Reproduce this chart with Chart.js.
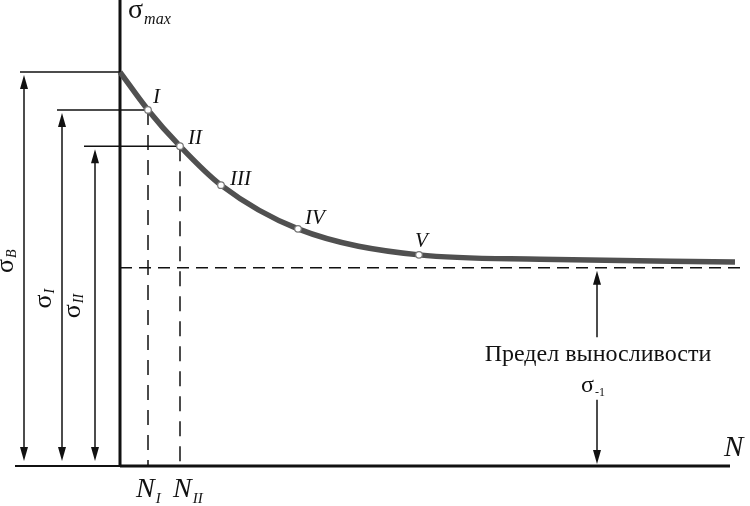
<!DOCTYPE html>
<html>
<head>
<meta charset="utf-8">
<script src="https://cdn.jsdelivr.net/npm/chart.js@4"></script>
<style>
  html, body { margin: 0; padding: 0; background: #fff; }
  #wrap { width: 750px; height: 506px; position: relative; }
</style>
</head>
<body>
<div id="wrap"><canvas id="fatigue"></canvas></div>
<script>
// ── Data (N in arbitrary cycle units, σ in % of σB) ──
const curveN     = [0, 2.8, 6.0, 10.1, 17.8, 29.9, 42.0, 61.5];
const curveSigma = [100, 90.4, 81.2, 71.3, 60.2, 53.6, 52.5, 51.8];
const pointIndex = [1, 2, 3, 4, 5];
const pointNames = ['I', 'II', 'III', 'IV', 'V'];

const sigmaB = 100, sigmaI = 90.4, sigmaII = 81.2;
const sigmaLimit = 50.3;
const nI = 2.8, nII = 6.0;

// axis extents
const xMin = -12, xMax = 63;
const yMin = -10.15, yMax = 118.3;
const axisNLeft = -10.5, axisNRight = 61, limitNEnd = 62;

// left reference lines and their dimension arrows
const refSigma = [sigmaB, sigmaI, sigmaII];
const refLineStart = [-10, -6.3, -3.6];
const refLineEnd = [0, nI, nII];
const refArrowN = [-9.6, -5.8, -2.5];
const refNames = [['σ', 'B'], ['σ', 'I'], ['σ', 'II']];
const refLabelN = [-11.4, -7.6, -4.7];
const refLabelSigma = [49.0, 40.0, 37.5];

// endurance-limit arrow
const limitArrowN = 47.7;
const limitUpFrom = 32.7, limitDownFrom = 16.8;

const seg = (x1, y1, x2, y2) => [{ x: x1, y: y1 }, { x: x2, y: y2 }];
const lineDs = (data, width, dash, order) => ({
    data, showLine: true, borderColor: '#111', borderWidth: width,
    borderDash: dash || [], pointRadius: 0, fill: false, order: order ?? 3, clip: false
});

const datasets = [
    // markers on the curve
    {
        data: pointIndex.map(i => ({ x: curveN[i], y: curveSigma[i] })),
        showLine: false, pointRadius: 3.3, pointBackgroundColor: '#fff',
        pointBorderColor: '#777', pointBorderWidth: 1.2, order: 0, clip: false
    },
    // fatigue curve
    {
        data: curveN.map((n, i) => ({ x: n, y: curveSigma[i] })),
        showLine: true, borderColor: '#505050', borderWidth: 5.5, pointRadius: 0,
        cubicInterpolationMode: 'monotone', borderCapStyle: 'butt', order: 1, clip: false
    },
    // axes
    lineDs(seg(0, 0, 0, yMax), 3, null, 2),
    lineDs(seg(axisNLeft, 0, 0, 0), 2, null, 2),
    lineDs(seg(0, 0, axisNRight, 0), 3, null, 2),
    // dashed guides
    lineDs(seg(0, sigmaLimit, limitNEnd, sigmaLimit), 1.5, [12, 7]),
    lineDs(seg(nI, sigmaI, nI, 0), 1.5, [15, 10]),
    lineDs(seg(nII, sigmaII, nII, 0), 1.5, [15, 10]),
    // reference horizontals
    ...refSigma.map((s, i) => lineDs(seg(refLineStart[i], s, refLineEnd[i], s), 1.5))
];

// ── Arrows and text ──
function arrowHead(ctx, x, y, dir) {
    ctx.beginPath();
    ctx.moveTo(x, y);
    ctx.lineTo(x - 4, y - dir * 14);
    ctx.lineTo(x + 4, y - dir * 14);
    ctx.closePath();
    ctx.fill();
}

// shaft from yA to yB with heads at the ends asked for
function vArrow(ctx, x, yA, yB, headA, headB) {
    const dir = yB > yA ? 1 : -1;
    ctx.beginPath();
    ctx.moveTo(x, yA + (headA ? dir * 6 : 0));
    ctx.lineTo(x, yB - (headB ? dir * 6 : 0));
    ctx.stroke();
    if (headA) arrowHead(ctx, x, yA, -dir);
    if (headB) arrowHead(ctx, x, yB, dir);
}

function subText(ctx, base, sub, x, y, baseFont, subFont, dy) {
    ctx.font = baseFont;
    ctx.fillText(base, x, y);
    const w = ctx.measureText(base).width;
    ctx.font = subFont;
    ctx.fillText(sub, x + w + 1, y + dy);
}

const SERIF = '"Liberation Serif", "Times New Roman", serif';

const annotations = {
    id: 'annotations',
    afterDatasetsDraw(chart) {
        const { ctx, scales: { x, y } } = chart;
        ctx.save();
        ctx.fillStyle = '#111';
        ctx.strokeStyle = '#111';
        ctx.lineWidth = 1.5;
        ctx.textBaseline = 'alphabetic';
        ctx.textAlign = 'left';

        const ox = x.getPixelForValue(0), oy = y.getPixelForValue(0);

        // dimension arrows on the left
        refSigma.forEach((s, i) => {
            vArrow(ctx, x.getPixelForValue(refArrowN[i]), y.getPixelForValue(s) + 3, oy - 5, true, true);
        });

        // endurance-limit arrows
        const lx = x.getPixelForValue(limitArrowN);
        vArrow(ctx, lx, y.getPixelForValue(limitUpFrom), y.getPixelForValue(sigmaLimit) + 3, false, true);
        vArrow(ctx, lx, y.getPixelForValue(limitDownFrom), oy - 2, false, true);

        // σ labels on the left, rotated
        refNames.forEach(([b, sb], i) => {
            ctx.save();
            ctx.translate(x.getPixelForValue(refLabelN[i]), y.getPixelForValue(refLabelSigma[i]));
            ctx.rotate(-Math.PI / 2);
            ctx.textBaseline = 'middle';
            subText(ctx, b, sb, 0, 0, `26px ${SERIF}`, `italic 14px ${SERIF}`, 6);
            ctx.restore();
        });

        // axis titles
        subText(ctx, 'σ', 'max', ox + 8, y.getPixelForValue(yMax) + 18,
            `28px ${SERIF}`, `italic 16px ${SERIF}`, 6);
        ctx.font = `italic 29px ${SERIF}`;
        ctx.fillText('N', x.getPixelForValue(axisNRight) - 6, oy - 10);

        subText(ctx, 'N', 'I', x.getPixelForValue(nI) - 12, oy + 31,
            `italic 28px ${SERIF}`, `italic 15px ${SERIF}`, 6);
        subText(ctx, 'N', 'II', x.getPixelForValue(nII) - 7, oy + 31,
            `italic 28px ${SERIF}`, `italic 15px ${SERIF}`, 6);

        // curve point names
        ctx.font = `italic 21px ${SERIF}`;
        const nameDx = [5, 8, 9, 7, -4];
        const nameDy = [-7, -2, 0, -5, -8];
        pointIndex.forEach((idx, k) => {
            ctx.fillText(pointNames[k], x.getPixelForValue(curveN[idx]) + nameDx[k],
                y.getPixelForValue(curveSigma[idx]) + nameDy[k]);
        });

        // endurance limit text
        ctx.textAlign = 'center';
        ctx.font = `24px ${SERIF}`;
        ctx.fillText('Предел выносливости', lx + 1, y.getPixelForValue(limitUpFrom) + 24);
        ctx.textAlign = 'left';
        subText(ctx, 'σ', '-1', lx - 16, y.getPixelForValue(limitDownFrom) - 8,
            `24px ${SERIF}`, `12px ${SERIF}`, 4);

        ctx.restore();
    }
};

new Chart(document.getElementById('fatigue'), {
    type: 'scatter',
    data: { datasets },
    options: {
        responsive: true,
        maintainAspectRatio: false,
        animation: false,
        layout: { padding: 0, autoPadding: false },
        plugins: { legend: { display: false }, tooltip: { enabled: false } },
        scales: {
            x: { type: 'linear', min: xMin, max: xMax, display: false },
            y: { type: 'linear', min: yMin, max: yMax, display: false }
        }
    },
    plugins: [annotations]
});
</script>
</body>
</html>
